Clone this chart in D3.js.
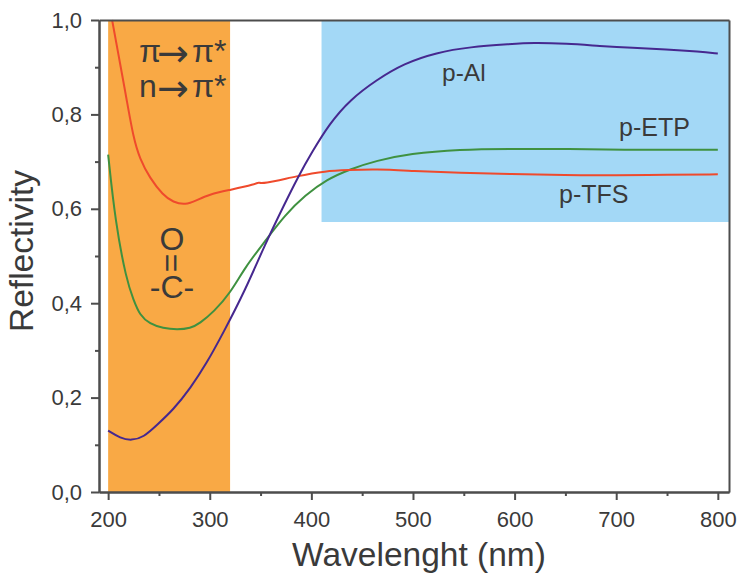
<!DOCTYPE html>
<html lang="en">
<head>
<meta charset="UTF-8">
<title>Reflectivity</title>
<script src="https://d3js.org/d3.v7.min.js"></script>
<style>
    html, body { margin: 0; padding: 0; background: #fff; }
    svg { display: block; }
    text { font-family: "Liberation Sans", Arial, sans-serif; fill: #3a3a3a; }
</style>
</head>
<body>
<div id="chart"></div>
<script>
// values
var alWave = [200, 212, 223, 235, 248, 264, 281, 297, 313, 335, 354, 374, 387, 400, 418, 438, 464, 491, 523, 556, 596, 618, 651, 684, 716, 749, 782, 800];
var alRefl = [0.13, 0.114, 0.109, 0.116, 0.142, 0.174, 0.22, 0.273, 0.336, 0.428, 0.523, 0.612, 0.668, 0.718, 0.781, 0.831, 0.873, 0.908, 0.931, 0.943, 0.949, 0.952, 0.95, 0.945, 0.941, 0.938, 0.933, 0.929];

var etpWave = [200, 207, 218, 225, 231, 241, 254, 268, 281, 290, 304, 320, 335, 354, 374, 394, 415, 438, 464, 497, 546, 596, 650, 700, 800];
var etpRefl = [0.715, 0.573, 0.449, 0.407, 0.375, 0.356, 0.347, 0.344, 0.347, 0.357, 0.382, 0.421, 0.477, 0.53, 0.587, 0.629, 0.662, 0.684, 0.702, 0.717, 0.726, 0.727, 0.727, 0.725, 0.725];

var tfsWave = [203.9, 212, 218, 225, 231, 241, 254, 264, 276, 287, 300, 320, 345, 348, 351, 387, 414, 436, 463, 500, 546, 596, 650, 700, 750, 800];
var tfsRefl = [1.0, 0.905, 0.834, 0.749, 0.707, 0.665, 0.629, 0.614, 0.608, 0.618, 0.631, 0.64, 0.652, 0.657, 0.652, 0.67, 0.68, 0.682, 0.684, 0.68, 0.676, 0.674, 0.671, 0.671, 0.672, 0.673];

var xMajor = [200, 300, 400, 500, 600, 700, 800];
var xMinor = [250, 350, 450, 550, 650, 750];
var yMajor = [0, 0.2, 0.4, 0.6, 0.8, 1.0];
var yMinor = [0.1, 0.3, 0.5, 0.7, 0.9];

var orangeBand = [200, 320];
var blueBand = [410, 811];
var blueBottom = 0.572;

var svg = d3.select("#chart").append("svg").attr("width", 745).attr("height", 582);

var x = d3.scaleLinear().domain([191, 811]).range([99, 729]);
var y = d3.scaleLinear().domain([0, 1]).range([492, 20]);

// bandes de couleur
svg.append("rect")
    .attr("x", x(orangeBand[0])).attr("y", y(1))
    .attr("width", x(orangeBand[1]) - x(orangeBand[0])).attr("height", y(0) - y(1))
    .attr("fill", "#f9a945");
svg.append("rect")
    .attr("x", x(blueBand[0])).attr("y", y(1))
    .attr("width", x(blueBand[1]) - x(blueBand[0])).attr("height", y(blueBottom) - y(1))
    .attr("fill", "#a3d8f6");

// courbes
var line = d3.line().x(d => x(d[0])).y(d => y(d[1])).curve(d3.curveBasis);

function courbe(waves, refl, color) {
    svg.append("path")
        .attr("d", line(d3.zip(waves, refl)))
        .attr("fill", "none").attr("stroke", color).attr("stroke-width", 2);
}
courbe(etpWave, etpRefl, "#3f9140");
courbe(tfsWave, tfsRefl, "#ef4a2c");
courbe(alWave, alRefl, "#46288f");

// axes
function styleAxe(g) {
    g.selectAll("path, line").attr("stroke", "#4d4d4d").attr("stroke-width", 2);
    g.selectAll("text").style("font-size", "22px").attr("fill", "#3a3a3a");
}
var fmtY = d => d3.format(".1f")(d).replace(".", ",");

svg.append("g").attr("transform", "translate(0,492)")
    .call(d3.axisBottom(x).tickValues(xMajor).tickSize(8).tickSizeOuter(0).tickPadding(11).tickFormat(d3.format("d")))
    .call(styleAxe);
svg.append("g").attr("transform", "translate(0,492)")
    .call(d3.axisBottom(x).tickValues(xMinor).tickSize(4).tickSizeOuter(0).tickFormat(""))
    .call(styleAxe);
svg.append("g").attr("transform", "translate(99,0)")
    .call(d3.axisLeft(y).tickValues(yMajor).tickSize(8).tickSizeOuter(0).tickPadding(9).tickFormat(fmtY))
    .call(styleAxe);
svg.append("g").attr("transform", "translate(99,0)")
    .call(d3.axisLeft(y).tickValues(yMinor).tickSize(4).tickSizeOuter(0).tickFormat(""))
    .call(styleAxe);

// cadre haut et droite
svg.append("g").attr("transform", "translate(0,20)")
    .call(d3.axisTop(x).tickValues([]).tickSizeOuter(0))
    .call(styleAxe);
svg.append("g").attr("transform", "translate(729,0)")
    .call(d3.axisRight(y).tickValues([]).tickSizeOuter(0))
    .call(styleAxe);

// textes
function texte(str, px, py, size, anchor) {
    return svg.append("text").attr("x", px).attr("y", py)
        .attr("text-anchor", anchor || "start").style("font-size", size + "px").text(str);
}
texte("Wavelenght (nm)", 419, 566, 33.5, "middle");
texte("Reflectivity", 0, 0, 33.5, "middle").attr("transform", "translate(33,251) rotate(-90)");

texte("p-Al", 442, 81, 24.5);
texte("p-ETP", 619, 136, 25);
texte("p-TFS", 559, 203, 25);

// une seule ligne de texte, fleche en DejaVu car plus large que Liberation
function transition(lettre, py) {
    var t = svg.append("text").attr("y", py).style("font-size", "32px");
    t.append("tspan").attr("x", 139).text(lettre);
    t.append("tspan").attr("x", 157).attr("y", py + 4)
        .style("font-family", "DejaVu Sans").style("font-size", "38px").text("→");
    t.append("tspan").attr("x", 192).attr("y", py).text("π*");
}
transition("π", 62);
transition("n", 97);

texte("O", 172, 250, 32, "middle");
texte("=", 0, 0, 32, "middle").attr("transform", "translate(161,263) rotate(90)");
texte("-C-", 172, 298, 32, "middle");
</script>
</body>
</html>
